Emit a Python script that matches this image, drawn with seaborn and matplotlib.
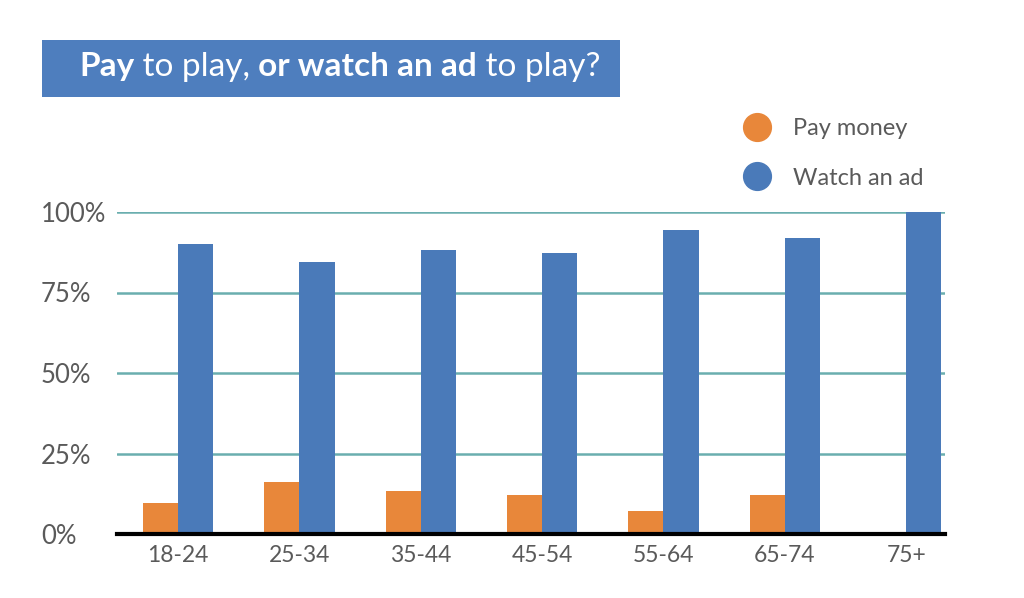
import pandas as pd
import seaborn as sns
import matplotlib.pyplot as plt
from matplotlib.lines import Line2D
from matplotlib.patches import Rectangle

# --- data ---
age_groups = ["18-24", "25-34", "35-44", "45-54", "55-64", "65-74", "75+"]
pay_money = [9.6, 16.0, 13.4, 12.1, 7.1, 12.1, 0.0]
watch_ad = [90.0, 84.4, 88.1, 87.4, 94.5, 91.9, 100.0]
series_names = ["Pay money", "Watch an ad"]
y_ticks = [0, 25, 50, 75, 100]
y_tick_labels = ["0%", "25%", "50%", "75%", "100%"]
title_parts = [("Pay", "bold"), (" to play,", "normal"), (" or watch an ad", "bold"), (" to play?", "normal")]

ORANGE = "#E8873A"
BLUE = "#4A7AB9"
TITLE_BLUE = "#4E7EBE"
GRID = "#6AAEAF"
TEXT = "#5A5A5A"

df = pd.DataFrame({
    "age": age_groups * 2,
    "pct": pay_money + watch_ad,
    "choice": [series_names[0]] * len(age_groups) + [series_names[1]] * len(age_groups),
})

sns.set_style("white")
plt.rcParams["font.family"] = ["Lato", "DejaVu Sans"]

fig = plt.figure(figsize=(10.24, 5.98), dpi=100)
ax = fig.add_axes([117 / 1024, 1 - 534 / 598, (945 - 117) / 1024, (534 - 212) / 598])

sns.barplot(data=df, x="age", y="pct", hue="choice", order=age_groups, hue_order=series_names,
            palette=[ORANGE, BLUE], width=0.58, gap=0, saturation=1, legend=False,
            linewidth=0, ax=ax)

ax.set_xlim(-0.503, 6.32)
ax.set_ylim(0, 100)
ax.set_yticks(y_ticks)
ax.set_yticklabels(y_tick_labels)
ax.set_xlabel("")
ax.set_ylabel("")
ax.set_axisbelow(True)
ax.yaxis.grid(True, color=GRID, linewidth=1.8)
ax.xaxis.grid(False)
for side in ["top", "right", "left"]:
    ax.spines[side].set_visible(False)
ax.spines["bottom"].set_color("black")
ax.spines["bottom"].set_linewidth(3)
ax.tick_params(axis="y", length=0, pad=54.7, labelsize=18.5, labelcolor=TEXT)
ax.tick_params(axis="x", length=0, pad=8, labelsize=16.5, labelcolor=TEXT)
for lbl in ax.get_yticklabels():
    lbl.set_horizontalalignment("left")

# legend with round markers
handles = [Line2D([], [], marker="o", linestyle="", markersize=20, color=c) for c in [ORANGE, BLUE]]
fig.legend(handles, series_names, loc="upper left", bbox_to_anchor=(712 / 1024, 1 - 97 / 598),
           frameon=False, fontsize=17, labelspacing=1.2, handletextpad=0.55, labelcolor=TEXT)

# title box with mixed weights
fig.add_artist(Rectangle((42 / 1024, 1 - 97 / 598), (620 - 42) / 1024, 57 / 598,
                         transform=fig.transFigure, facecolor=TITLE_BLUE, edgecolor="none"))
renderer = fig.canvas.get_renderer()
x = 79 / 1024
for txt, weight in title_parts:
    t = fig.text(x, 1 - 76 / 598, txt, fontsize=24, fontweight=weight, color="white", va="baseline")
    bb = t.get_window_extent(renderer)
    x = fig.transFigure.inverted().transform((bb.x1, bb.y0))[0]

fig.savefig("out.png", dpi=100)
